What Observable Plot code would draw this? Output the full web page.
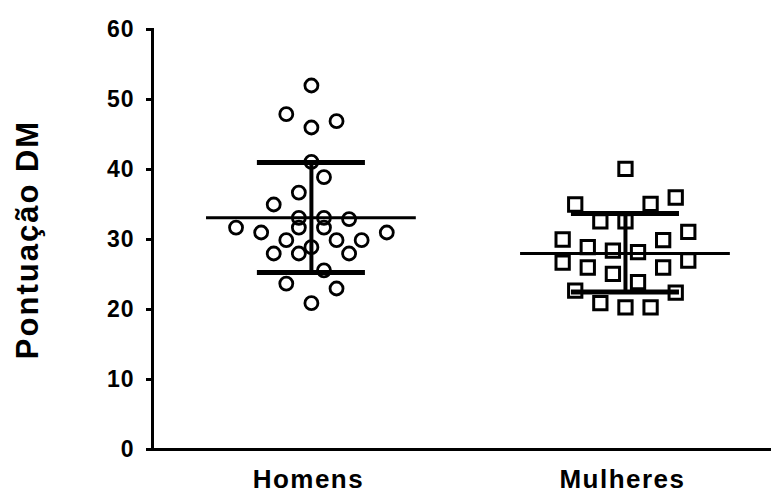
<!DOCTYPE html>
<html>
<head>
<meta charset="utf-8">
<script src="https://cdn.jsdelivr.net/npm/d3@7"></script>
<script src="https://cdn.jsdelivr.net/npm/@observablehq/plot@0.6"></script>
<style>
  html, body { margin: 0; padding: 0; background: #fff; }
  #chart svg { font-family: "Liberation Sans", Arial, sans-serif; display: block; }
  #chart g[aria-label="y-axis tick"] path { stroke-width: 3px; }
  #chart g[aria-label="x-axis tick label"] text { letter-spacing: 1.5px; }
  #chart g[aria-label="y-axis tick label"] text { letter-spacing: 1px; }
  #chart g[aria-label="text"] text { letter-spacing: 2px; }
</style>
</head>
<body>
<div id="chart"></div>
<script>
const groups = ["Homens", "Mulheres"];
const yTicks = [0, 10, 20, 30, 40, 50, 60];

const homensValues = [52.0, 47.9, 46.0, 46.9, 41.1, 38.9, 36.7, 35.0, 33.1, 33.1, 32.9, 31.7, 31.0, 31.0, 31.7, 31.7, 29.9, 29.9, 29.9, 28.9, 28.0, 28.0, 28.0, 25.6, 23.7, 23.0, 20.9];
const homensLanes  = [0, -2, 0, 2, 0, 1, -1, -3, -1, 1, 3, -6, -4, 6, -1, 1, -2, 2, 4, 0, -3, -1, 3, 1, -2, 2, 0];

const mulheresValues = [40.1, 35.0, 35.1, 36.0, 32.6, 32.6, 31.1, 30.0, 28.9, 29.9, 28.4, 28.2, 25.1, 23.9, 26.7, 26.0, 26.0, 27.0, 22.7, 22.4, 20.9, 20.3, 20.3];
const mulheresLanes  = [0, -4, 2, 4, -2, 0, 5, -5, -3, 3, -1, 1, -1, 1, -5, -3, 3, 5, -4, 4, -2, 0, 2];

const means = [33.1, 28.0];
const sdUpper = [41.0, 33.7];
const sdLower = [25.3, 22.5];

const laneStep = 0.04;
const meanHalf = 0.334;
const capHalf = 0.172;

const homens = homensValues.map((v, i) => ({g: 0, x: 0 + homensLanes[i] * laneStep, y: v}));
const mulheres = mulheresValues.map((v, i) => ({g: 1, x: 1 + mulheresLanes[i] * laneStep, y: v}));
const summary = groups.map((name, i) => ({i, name, mean: means[i], hi: sdUpper[i], lo: sdLower[i]}));

const chart = Plot.plot({
  width: 771,
  height: 494,
  marginLeft: 152,
  marginRight: 0,
  marginTop: 29,
  marginBottom: 45,
  style: {fontFamily: "Liberation Sans, Arial, sans-serif", background: "#fff"},
  x: {type: "linear", domain: [-0.506, 1.465]},
  y: {domain: [0, 60]},
  marks: [
    Plot.frame({anchor: "left", stroke: "black", strokeWidth: 3}),
    Plot.frame({anchor: "bottom", stroke: "black", strokeWidth: 3}),
    Plot.axisY({ticks: yTicks, tickSize: 6, tickPadding: 12, fontSize: 23, fontWeight: "bold", fill: "black", label: null, strokeWidth: 3}),
    Plot.axisX({ticks: [0, 1], tickFormat: d => groups[d], tickSize: 0, tickPadding: 20, fontSize: 26, fontWeight: "bold", fill: "black", label: null, dx: -3}),
    Plot.text(["Pontuação DM"], {frameAnchor: "left", textAnchor: "middle", dx: -124, rotate: -90, fontSize: 31, fontWeight: "bold", fill: "black"}),
    Plot.dot(homens, {x: "x", y: "y", r: 6.5, symbol: "circle", stroke: "black", strokeWidth: 2.8, fill: "none"}),
    Plot.dot(mulheres, {x: "x", y: "y", r: 7.5, symbol: "square", stroke: "black", strokeWidth: 3, fill: "none"}),
    Plot.ruleX(summary, {x: "i", y1: "lo", y2: "hi", stroke: "black", strokeWidth: 4}),
    Plot.ruleY(summary, {y: "mean", x1: d => d.i - meanHalf, x2: d => d.i + meanHalf, stroke: "black", strokeWidth: 3}),
    Plot.ruleY(summary, {y: "hi", x1: d => d.i - capHalf, x2: d => d.i + capHalf, stroke: "black", strokeWidth: 5}),
    Plot.ruleY(summary, {y: "lo", x1: d => d.i - capHalf, x2: d => d.i + capHalf, stroke: "black", strokeWidth: 5})
  ]
});
document.getElementById("chart").appendChild(chart);
</script>
</body>
</html>
